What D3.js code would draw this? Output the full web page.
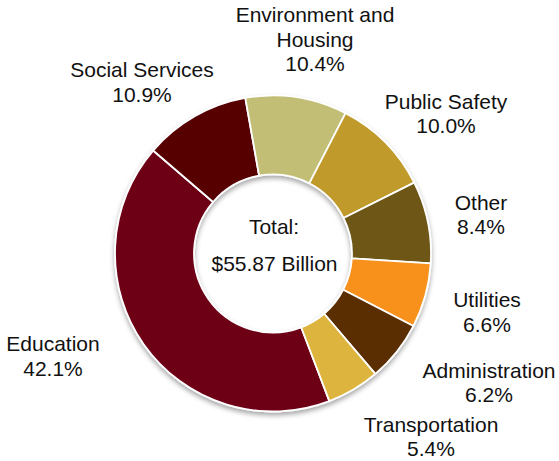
<!DOCTYPE html>
<html>
<head>
<meta charset="utf-8">
<script src="https://cdn.jsdelivr.net/npm/d3@7"></script>
<style>
  html, body { margin: 0; padding: 0; background: #fff; }
  svg { display: block; }
  text { font-family: "Liberation Sans", Arial, sans-serif; fill: #111; }
</style>
</head>
<body>
<svg id="chart" width="559" height="461"></svg>
<script>
// ---- data ----
const categories = ["Education", "Social Services", "Environment and Housing", "Public Safety",
                    "Other", "Utilities", "Administration", "Transportation"];
const shares = [42.1, 10.9, 10.4, 10.0, 8.4, 6.6, 6.2, 5.4];
const labelLines = [["Education"], ["Social Services"], ["Environment and", "Housing"], ["Public Safety"],
                    ["Other"], ["Utilities"], ["Administration"], ["Transportation"]];
const centerText = ["Total:", "$55.87 Billion"];

// ---- style / layout ----
const colors = ["#6E0019", "#560006", "#C2BE74", "#C09A2A", "#6E5618", "#F8911E", "#5A2E00", "#DDB43E"];
const cx = 273, cy = 253.5, outerR = 158, innerR = 79;
const startDeg = 159.1;
const fontSize = 21, lineH = 24.3;
// label block centres (first line centre), relative to the chart centre
const labelAnchors = [[-220, 90.5], [-131, -183.5], [42, -238.5], [173, -152], [208, -51], [214, 46.5], [216, 117], [158, 171]];

const svg = d3.select("#chart");
const defs = svg.append("defs");
const f = defs.append("filter").attr("id", "shadow").attr("x", "-20%").attr("y", "-20%").attr("width", "140%").attr("height", "140%");
f.append("feDropShadow").attr("dx", 0).attr("dy", 3).attr("stdDeviation", 2.5)
  .attr("flood-color", "#000").attr("flood-opacity", 0.35);

const data = categories.map((c, i) => ({ name: c, value: shares[i], i }));
const pie = d3.pie().value(d => d.value).sort(null)
  .startAngle(startDeg * Math.PI / 180).endAngle(startDeg * Math.PI / 180 + 2 * Math.PI);
const arc = d3.arc().innerRadius(innerR).outerRadius(outerR);

const g = svg.append("g").attr("transform", `translate(${cx},${cy})`);
g.append("g").attr("filter", "url(#shadow)")
  .selectAll("path").data(pie(data)).join("path")
  .attr("d", arc)
  .attr("fill", d => colors[d.data.i])
  .attr("stroke", "#fff").attr("stroke-width", 1.8).attr("stroke-linejoin", "round");

// slice labels
const lg = g.append("g");
data.forEach((d, i) => {
  const lines = labelLines[i].concat([d3.format(".1f")(d.value) + "%"]);
  const [ax, ay] = labelAnchors[i];
  const t = lg.append("text").attr("text-anchor", "middle").attr("font-size", fontSize);
  lines.forEach((ln, k) => {
    t.append("tspan").attr("x", ax).attr("y", ay + k * lineH).attr("dy", "0.35em").text(ln);
  });
});

// centre text
const ct = g.append("text").attr("text-anchor", "middle").attr("font-size", fontSize);
ct.append("tspan").attr("x", 1).attr("y", -27).attr("dy", "0.35em").text(centerText[0]);
ct.append("tspan").attr("x", 1.5).attr("y", 10.5).attr("dy", "0.35em").text(centerText[1]);
</script>
</body>
</html>
